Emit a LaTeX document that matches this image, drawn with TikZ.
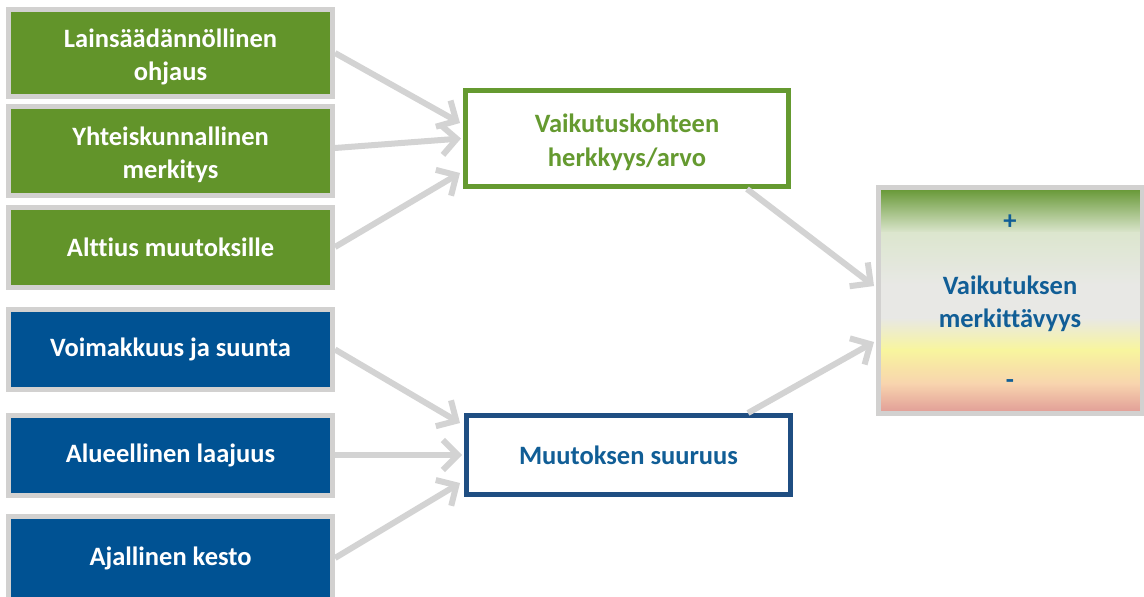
\documentclass[tikz,border=0pt]{standalone}
\usepackage{fontspec}
\setmainfont[Ligatures=NoCommon]{Carlito}
\usetikzlibrary{arrows.meta}
\definecolor{grnfill}{HTML}{62942A}
\definecolor{blufill}{HTML}{005293}
\definecolor{grnline}{HTML}{659A30}
\definecolor{bluline}{HTML}{1F4E82}
\definecolor{blutext}{HTML}{115E96}
\definecolor{grayb}{HTML}{D2D1D0}
\definecolor{arrowc}{HTML}{D3D3D3}
\definecolor{gA}{HTML}{6A9A3A}
\definecolor{gB}{HTML}{DCE6CE}
\definecolor{gC}{HTML}{E8E8E5}
\definecolor{gD}{HTML}{F8F59E}
\definecolor{gE}{HTML}{F8D4AE}
\definecolor{gF}{HTML}{E2A098}
\tikzset{
  bigfont/.style={font=\fontsize{26.5}{33.5}\selectfont\bfseries},
  twoline/.style={text height=62pt, text depth=7pt},
  srcbox/.style={draw=grayb, line width=5pt, minimum width=324pt, inner sep=0pt,
    text=white, bigfont, align=center},
  grnbox/.style={srcbox, fill=grnfill},
  blubox/.style={srcbox, fill=blufill},
  midbox/.style={fill=white, line width=5pt, inner sep=0pt, bigfont, align=center},
  conn/.style={draw=arrowc, line width=6pt, -{Straight Barb[length=15pt, width=30pt, line width=6pt]}}
}
\begin{document}
\begin{tikzpicture}[x=1pt, y=-1pt]
\useasboundingbox (0,0) rectangle (1144,597);
% left source boxes
\node[grnbox, twoline, minimum height=87pt] (b1) at (170.5,53) {Lainsäädännöllinen\\ohjaus};
\node[grnbox, twoline, minimum height=89pt] (b2) at (170.5,151) {Yhteiskunnallinen\\merkitys};
\node[grnbox, minimum height=80pt] (b3) at (170.5,247) {Alttius muutoksille};
\node[blubox, minimum height=80pt] (b4) at (170.5,349.5) {Voimakkuus ja suunta};
\node[blubox, minimum height=80pt] (b5) at (170.5,455) {Alueellinen laajuus};
\node[blubox, minimum height=83pt] (b6) at (170.5,558) {Ajallinen kesto};
% middle boxes
\node[midbox, twoline, draw=grnline, text=grnline, minimum width=323pt, minimum height=96pt] (mg) at (627,138.5) {Vaikutuskohteen\\herkkyys/arvo};
\node[midbox, draw=bluline, text=blutext, minimum width=324pt, minimum height=79pt] (mb) at (628.5,455) {Muutoksen suuruus};
% right gradient box
\shade[top color=gA, bottom color=gB] (881,190) rectangle (1140,233);
\shade[top color=gB, bottom color=gC] (881,232.5) rectangle (1140,285);
\fill[gC] (881,284.5) rectangle (1140,318);
\shade[top color=gC, bottom color=gD] (881,317.5) rectangle (1140,350);
\shade[top color=gD, bottom color=gE] (881,349.5) rectangle (1140,384);
\shade[top color=gE, bottom color=gF] (881,383.5) rectangle (1140,411);
\node[draw=grayb, line width=5pt, minimum width=263.5pt, minimum height=226pt, inner sep=0pt] (rb) at (1010.25,300.5) {};
\node[text=blutext, bigfont] (plus) at (1010,222) {+};
\node[text=blutext, bigfont, align=center] (rt) at (1010,304) {Vaikutuksen\\merkittävyys};
\node[text=blutext, bigfont] (minus) at (1010,384) {-};
% connectors
\draw[conn] (b1.east) -- ([xshift=-3pt, yshift=15.5pt]mg.west);
\draw[conn] ([yshift=3pt]b2.east) -- ([xshift=-2pt]mg.west);
\draw[conn] (b3.east) -- ([xshift=-3pt, yshift=-34.5pt]mg.west);
\draw[conn] (b4.east) -- ([xshift=-4pt, yshift=32pt]mb.west);
\draw[conn] (b5.east) -- ([xshift=-2pt]mb.west);
\draw[conn] (b6.east) -- ([xshift=-4pt, yshift=-28pt]mb.west);
\draw[conn] ([xshift=120pt]mg.south) -- ([xshift=-2pt, yshift=14.5pt]rb.west);
\draw[conn] ([xshift=119.5pt]mb.north) -- ([xshift=-2pt, yshift=-41.5pt]rb.west);
\end{tikzpicture}
\end{document}
